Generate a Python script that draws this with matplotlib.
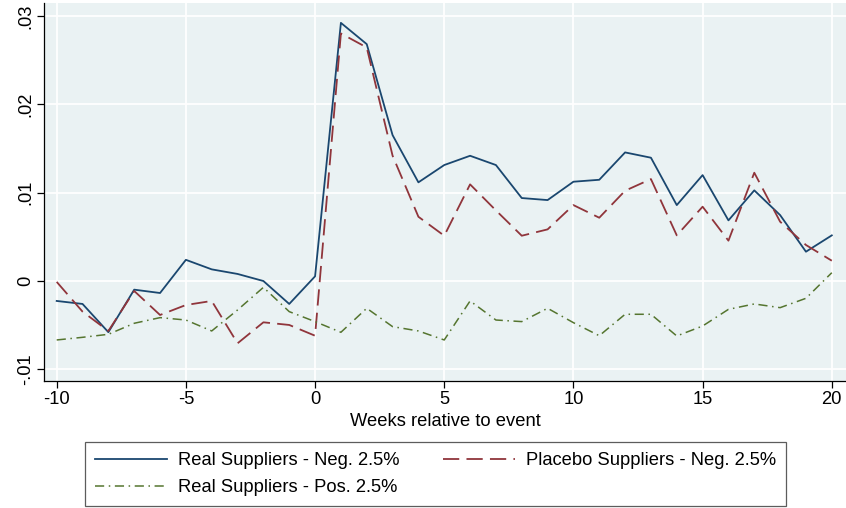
import matplotlib
matplotlib.use("Agg")
import matplotlib.pyplot as plt

plt.rcParams['font.family'] = ['Liberation Sans', 'DejaVu Sans']

weeks = list(range(-10, 21))
real_neg = [-0.00226, -0.0026, -0.0058, -0.00098, -0.00136, 0.0024, 0.00132, 0.0008, 0.0, -0.0026, 0.00053,
            0.02925, 0.02684, 0.01653, 0.01118, 0.01314, 0.01419, 0.01314, 0.0094, 0.00917, 0.01125,
            0.01147, 0.01457, 0.01397, 0.0086, 0.0120, 0.00687, 0.01027, 0.00747, 0.00332, 0.00517]
placebo_neg = [-0.0001, -0.00347, -0.00566, -0.00113, -0.00385, -0.00272, -0.00226, -0.00706, -0.00468, -0.00498, -0.0062,
               0.02805, 0.02646, 0.0142, 0.00728, 0.00513, 0.01095, 0.0080, 0.00513, 0.00585, 0.0086,
               0.00717, 0.01023, 0.01155, 0.00517, 0.00842, 0.00457, 0.01227, 0.00672, 0.00408, 0.0023]
real_pos = [-0.00668, -0.00638, -0.00604, -0.00479, -0.00415, -0.00442, -0.00566, -0.00328, -0.00072, -0.00347, -0.0046,
            -0.00581, -0.00309, -0.00517, -0.00566, -0.00668, -0.00226, -0.00442, -0.0046, -0.00309, -0.00472,
            -0.0062, -0.00377, -0.00377, -0.00623, -0.0051, -0.00321, -0.0026, -0.00302, -0.00196, 0.00094]

labels = ["Real Suppliers - Neg. 2.5%", "Placebo Suppliers - Neg. 2.5%", "Real Suppliers - Pos. 2.5%"]
xticks = [-10, -5, 0, 5, 10, 15, 20]
yticks = [-0.01, 0.0, 0.01, 0.02, 0.03]
yticklabels = ["-.01", "0", ".01", ".02", ".03"]

c_blue = "#1a476f"
c_red = "#90353b"
c_green = "#55752f"
fs = 13.2

fig = plt.figure(figsize=(8.46, 5.08), dpi=100)
ax = fig.add_axes([44.3/846, 1-381/508, (846-44.3)/846, (381-3)/508])
ax.set_facecolor("#EAF2F3")

l1, = ax.plot(weeks, real_neg, color=c_blue, lw=1.3, label=labels[0])
l2, = ax.plot(weeks, placebo_neg, color=c_red, lw=1.3, dashes=(9, 4), label=labels[1])
l3, = ax.plot(weeks, real_pos, color=c_green, lw=1.1, dashes=(6, 3, 1, 3), label=labels[2])

ax.set_xlim(-10.48, 20.55)
ax.set_ylim(-0.01133, 0.0315)
ax.set_xticks(xticks)
ax.set_xticklabels([str(t) for t in xticks])
ax.set_yticks(yticks)
ax.set_yticklabels(yticklabels, rotation=90, va='center')
ax.grid(True, color='white', lw=1.3)
ax.set_axisbelow(True)
for s in ['top', 'right']:
    ax.spines[s].set_visible(False)
for s in ['left', 'bottom']:
    ax.spines[s].set_color('black')
    ax.spines[s].set_linewidth(0.9)
ax.tick_params(axis='both', labelsize=fs, length=5, width=0.9, color='black', pad=2.5)
ax.set_xlabel("Weeks relative to event", fontsize=fs, labelpad=3)

leg = fig.legend(handles=[l1, l3, l2], labels=[labels[0], labels[2], labels[1]],
                 ncol=2, loc='upper left', bbox_to_anchor=(85/846, 1-442/508),
                 fontsize=fs, frameon=True, fancybox=False, edgecolor='#333333',
                 handlelength=3.9, handletextpad=0.6, columnspacing=2.4, borderaxespad=0,
                 labelspacing=0.55, borderpad=0.55)
leg.get_frame().set_linewidth(0.9)

fig.savefig("out.png", dpi=100)
